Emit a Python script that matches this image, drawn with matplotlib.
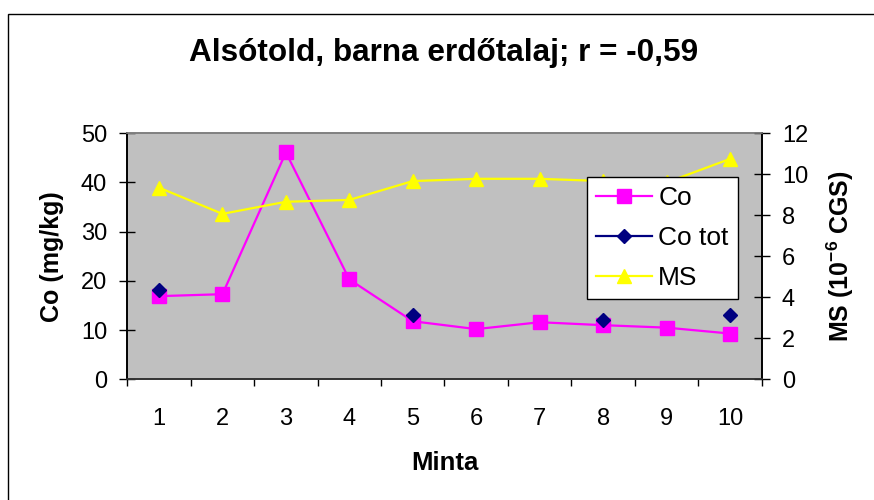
import numpy as np
import matplotlib
matplotlib.use("Agg")
import matplotlib.pyplot as plt
from matplotlib.patches import Rectangle

plt.rcParams['font.family'] = ['Liberation Sans', 'DejaVu Sans']
plt.rcParams['mathtext.fontset'] = 'custom'
plt.rcParams['mathtext.rm'] = 'Liberation Sans:bold'
plt.rcParams['mathtext.bf'] = 'Liberation Sans:bold'
plt.rcParams['mathtext.default'] = 'bf'

# ---- data ----
samples = [1, 2, 3, 4, 5, 6, 7, 8, 9, 10]
sample_labels = ["1", "2", "3", "4", "5", "6", "7", "8", "9", "10"]
co = [16.9, 17.3, 46.1, 20.3, 11.8, 10.2, 11.6, 11.0, 10.5, 9.3]
co_tot = [18.1, np.nan, np.nan, np.nan, 13.0, np.nan, np.nan, 12.1, np.nan, 13.0]
ms = [9.35, 8.07, 8.66, 8.75, 9.67, 9.78, 9.78, 9.67, 9.6, 10.75]

title = "Alsótold, barna erdőtalaj; r = -0,59"
xlabel = "Minta"
ylabel_left = "Co (mg/kg)"
ylabel_right = r"MS (10$^{\mathbf{-6}}$ CGS)"

W, H = 874, 500
fig = plt.figure(figsize=(W / 100, H / 100), dpi=100)

# outer chart border
fig.patches.append(Rectangle((8 / W, -0.1), 1.2, 1 - 14 / H + 0.1,
                             transform=fig.transFigure, fill=False,
                             edgecolor='#000000', linewidth=1.0))

left, right = 127.3 / W, 761.7 / W
bottom, top = 1 - 379.3 / H, 1 - 133.3 / H
ax = fig.add_axes([left, bottom, right - left, top - bottom])
ax.set_facecolor('#C0C0C0')
ax2 = ax.twinx()

x = np.array(samples)
ax.plot(x, co, color='#FF00FF', marker='s', markersize=9.5, linewidth=1.6,
        markeredgecolor='#FF00FF', label='Co', zorder=3)
ax.plot(x, co_tot, color='#000080', marker='D', markersize=7.5, linewidth=1.6,
        markeredgecolor='#000080', label='Co tot', zorder=4)
ax2.plot(x, ms, color='#FFFF00', marker='^', markersize=10.5, linewidth=1.6,
         markeredgecolor='#FFFF00', label='MS', zorder=3)

ax.set_xlim(0.5, 10.5)
ax.set_ylim(0, 50)
ax2.set_ylim(0, 12)

ax.set_yticks(np.arange(0, 51, 10))
ax2.set_yticks(np.arange(0, 13, 2))

ax.set_xticks(np.arange(0.5, 11, 1))
ax.set_xticklabels([])
ax.set_xticks(x, minor=True)
ax.set_xticklabels(sample_labels, minor=True)

fs_tick = 17
ax.tick_params(axis='x', which='major', direction='out', length=5, width=1, color='#000000')
ax.tick_params(axis='x', which='minor', length=0, pad=21, labelsize=fs_tick)
ax.tick_params(axis='y', direction='inout', length=11, width=1, pad=9, labelsize=fs_tick)
ax2.tick_params(axis='y', direction='inout', length=11, width=1, pad=9, labelsize=fs_tick)

for a in (ax, ax2):
    a.spines['top'].set_color('#808080')
    a.spines['left'].set_color('#000000')
    a.spines['right'].set_color('#000000')
    a.spines['bottom'].set_color('#333333')
    for s in a.spines.values():
        s.set_linewidth(1.2)
ax2.patch.set_visible(False)

ax.set_ylabel(ylabel_left, fontsize=18, fontweight='bold')
ax.yaxis.set_label_coords(-0.119, 0.5)
ax2.set_ylabel(ylabel_right, fontsize=18, fontweight='bold', rotation=90)
ax2.yaxis.set_label_coords(1.1234, 0.5)
ax.set_xlabel(xlabel, fontsize=18.5, fontweight='bold')
ax.xaxis.set_label_coords(0.5008, -0.34)
ax.xaxis.label.set_va('center')
ax.yaxis.label.set_va('center')
ax2.yaxis.label.set_va('center')

fig.text(444 / W, 1 - 61 / H, title, ha='center', va='baseline',
         fontsize=22.7, fontweight='bold')

h1, l1 = ax.get_legend_handles_labels()
h2, l2 = ax2.get_legend_handles_labels()
leg = ax2.legend(h1 + h2, l1 + l2, loc='upper left',
                 bbox_to_anchor=(587 / W, 1 - 177 / H), bbox_transform=fig.transFigure,
                 borderaxespad=0, fontsize=19, frameon=True, fancybox=False,
                 framealpha=1, edgecolor='#000000', facecolor='white',
                 handlelength=2.1, handletextpad=0.25, borderpad=0.35, labelspacing=0.6)
leg.get_frame().set_linewidth(1.0)
leg.set_zorder(10)

fig.savefig('out.png', dpi=100)
